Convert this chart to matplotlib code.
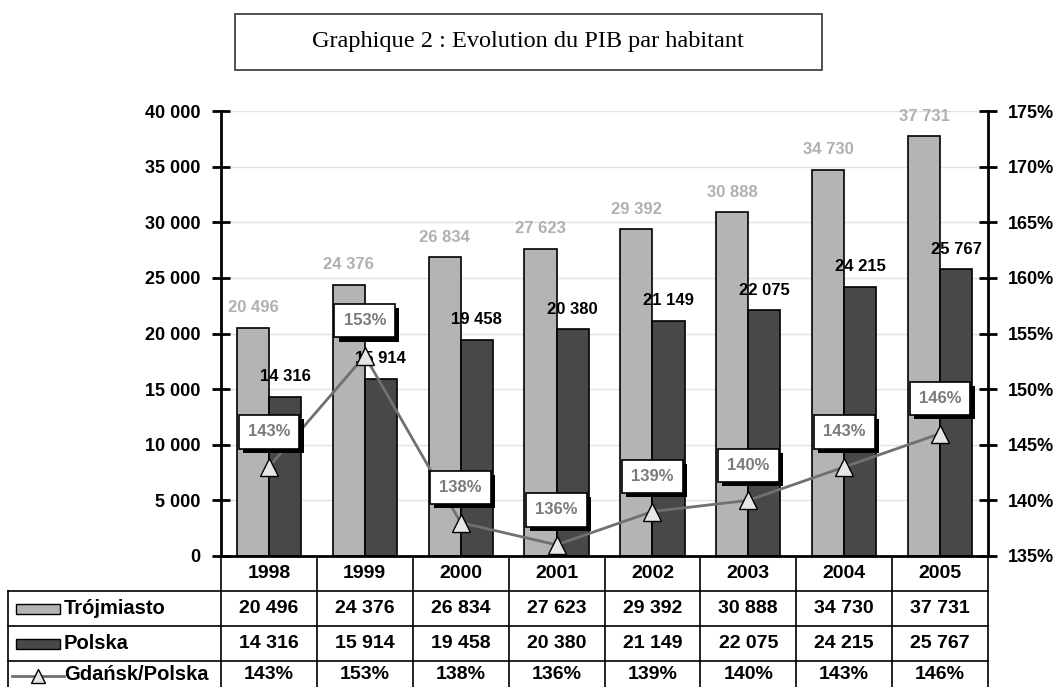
import numpy as np
import matplotlib.pyplot as plt
import matplotlib.patheffects as pe
from matplotlib.patches import Rectangle

years = ['1998', '1999', '2000', '2001', '2002', '2003', '2004', '2005']
trojmiasto = [20496, 24376, 26834, 27623, 29392, 30888, 34730, 37731]
polska = [14316, 15914, 19458, 20380, 21149, 22075, 24215, 25767]
ratio = [143, 153, 138, 136, 139, 140, 143, 146]
left_ticks = [0, 5000, 10000, 15000, 20000, 25000, 30000, 35000, 40000]
right_ticks = [135, 140, 145, 150, 155, 160, 165, 170, 175]

light = '#b4b4b4'
dark = '#484848'
fnt = 'Liberation Sans'

def fmt(v):
    return f'{v:,}'.replace(',', ' ')

W, H = 1055, 687
fig = plt.figure(figsize=(W / 100, H / 100), dpi=100)

L, R, T, B = 221, 988, 111, 556
ax = fig.add_axes([L / W, 1 - B / H, (R - L) / W, (B - T) / H])
ax2 = ax.twinx()

x = np.arange(len(years))
bw = 0.335
ax.bar(x - bw / 2, trojmiasto, bw, color=light, edgecolor='black', linewidth=1.2, zorder=2)
ax.bar(x + bw / 2, polska, bw, color=dark, edgecolor='black', linewidth=1.2, zorder=2)

for i in range(len(years)):
    ax.annotate(fmt(trojmiasto[i]), (x[i] - bw / 2, trojmiasto[i]), xytext=(0, 20),
                textcoords='offset pixels', ha='center', va='center', color='#b0b0b0',
                fontsize=12, fontweight='bold', family=fnt, zorder=5)
    ax.annotate(fmt(polska[i]), (x[i] + bw / 2, polska[i]), xytext=(0, 20),
                textcoords='offset pixels', ha='center', va='center', color='black',
                fontsize=12, fontweight='bold', family=fnt, zorder=5)

ax.set_xlim(-0.5, len(years) - 0.5)
ax.set_ylim(0, 40000)
ax.set_yticks(left_ticks)
ax.set_yticklabels([fmt(v) for v in left_ticks], fontsize=13, fontweight='bold', family=fnt)
ax.set_xticks([])
ax.grid(axis='y', color='#e2e2e2', linewidth=1, zorder=0)
ax.set_axisbelow(True)
ax.tick_params(axis='y', direction='inout', length=13, width=2, pad=8)

ax2.set_ylim(135, 175)
ax2.set_yticks(right_ticks)
ax2.set_yticklabels([f'{v}%' for v in right_ticks], fontsize=13, fontweight='bold', family=fnt)
ax2.tick_params(axis='y', direction='inout', length=13, width=2, pad=8)
ax2.plot(x, ratio, color='#707070', linewidth=2, marker='^', markersize=13,
         markerfacecolor='#e6e6e6', markeredgecolor='black', markeredgewidth=1, zorder=4,
         clip_on=False)
for i in range(len(years)):
    t = ax2.annotate(f'{ratio[i]}%', (x[i], ratio[i]), xytext=(0, 35), textcoords='offset pixels',
                     ha='center', va='center', color='#7a7a7a', fontsize=12, fontweight='bold',
                     family=fnt, zorder=6,
                     bbox=dict(boxstyle='square,pad=0.55', fc='white', ec='black', lw=1.2))
    t.get_bbox_patch().set_path_effects([
        pe.SimplePatchShadow(offset=(3, -3), shadow_rgbFace='black', alpha=1), pe.Normal()])

for a in (ax, ax2):
    for s in a.spines.values():
        s.set_visible(False)
ax.spines['left'].set_visible(True)
ax.spines['left'].set_linewidth(2)
ax2.spines['right'].set_visible(True)
ax2.spines['right'].set_linewidth(2)
ax.spines['bottom'].set_visible(True)
ax.spines['bottom'].set_linewidth(2)

ov = fig.add_axes([0, 0, 1, 1], zorder=-1)
ov.set_xlim(0, W)
ov.set_ylim(H, 0)
ov.axis('off')

# title box
ov.add_patch(Rectangle((235, 14), 587, 56, fill=False, ec='#333333', lw=1.2))
ov.text(528, 42, 'Graphique 2 : Evolution du PIB par habitant', ha='center', va='center',
        fontsize=17.5, family='Liberation Serif')

# table
cw = (R - L) / len(years)
rows = [556, 591, 626, 661, 696]
for k in range(len(years) + 1):
    ov.plot([L + k * cw] * 2, [556, 696], color='black', lw=1.2)
ov.plot([8, 8], [591, 696], color='black', lw=1.2)
for ry in rows[1:]:
    ov.plot([8, R], [ry, ry], color='black', lw=1.2)

table_rows = [[fmt(v) for v in trojmiasto], [fmt(v) for v in polska], [f'{v}%' for v in ratio]]
for k, yr in enumerate(years):
    cx = L + (k + 0.5) * cw
    ov.text(cx, 574, yr, ha='center', va='center', fontsize=14, fontweight='bold', family=fnt)
    for r, vals in enumerate(table_rows):
        ov.text(cx, (rows[r + 1] + rows[r + 2]) / 2 - (4 if r == 2 else 0), vals[k],
                ha='center', va='center', fontsize=14, fontweight='bold', family=fnt)

names = ['Trójmiasto', 'Polska', 'Gdańsk/Polska']
ov.add_patch(Rectangle((16, 604), 44, 10, fc=light, ec='black', lw=1))
ov.add_patch(Rectangle((16, 639), 44, 10, fc=dark, ec='black', lw=1))
ov.plot([12, 64], [676, 676], color='#707070', lw=2)
ov.plot([38], [676], marker='^', markersize=10, markerfacecolor='#e6e6e6', markeredgecolor='black')
for r, nm in enumerate(names):
    ov.text(64, (rows[r + 1] + rows[r + 2]) / 2 - (4 if r == 2 else 0), nm, ha='left',
            va='center', fontsize=14.5, fontweight='bold', family=fnt)

fig.savefig('out.png', dpi=100)
